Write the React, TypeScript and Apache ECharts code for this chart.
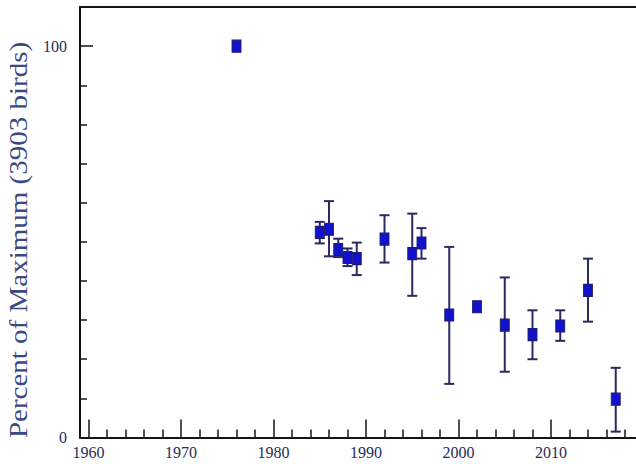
import React, { useEffect, useRef } from "react";
import * as echarts from "echarts";

const years = [1976, 1985, 1986, 1987, 1988, 1989, 1992, 1995, 1996, 1999, 2002, 2005, 2008, 2011, 2014, 2017];
const percent = [100, 52.4, 53.2, 48.0, 46.0, 45.7, 50.7, 47.0, 49.7, 31.3, 33.4, 28.7, 26.3, 28.5, 37.6, 9.8];
const lower = [null, 49.6, 46.3, 46.1, 43.8, 41.5, 44.7, 36.2, 45.7, 13.7, null, 16.8, 20.0, 24.7, 29.6, 1.5];
const upper = [null, 55.1, 60.4, 50.8, 48.3, 49.8, 56.8, 57.2, 53.5, 48.7, null, 40.9, 32.5, 32.5, 45.7, 17.8];

const xMajorTicks = [1960, 1970, 1980, 1990, 2000, 2010];
const xMinorTicks = [1962, 1964, 1966, 1968, 1972, 1974, 1976, 1978, 1982, 1984, 1986, 1988, 1992, 1994, 1996, 1998, 2002, 2004, 2006, 2008, 2012, 2014, 2016, 2018];
const yLabels = [0, 100];
const yMinorTicks = [10, 20, 30, 40, 50, 60, 70, 80, 90];

const yTitle = "Percent of Maximum (3903 birds)";

const X_MIN = 1959.08;
const X_MAX = 2019.19;
const Y_MIN = 0;
const Y_MAX = 110;

const serif = "Times New Roman, Liberation Serif, DejaVu Serif, serif";
const axisColor = "#151515";
const labelColor = "#252d58";

export default function App() {
  const ref = useRef<HTMLDivElement>(null);

  useEffect(() => {
    if (!ref.current) return;
    const chart = echarts.init(ref.current, null, { renderer: "svg" });

    const points = years.map((y, i) => [y, percent[i]]);
    const bars: number[][] = [];
    years.forEach((y, i) => {
      if (lower[i] != null && upper[i] != null) bars.push([y, lower[i] as number, upper[i] as number]);
    });

    const fmt = (v: number) => String(Math.round(v));

    chart.setOption({
      animation: false,
      backgroundColor: "#ffffff",
      textStyle: { fontFamily: serif },
      grid: {
        left: 80,
        top: 7,
        right: 0,
        bottom: 26.5,
        show: false,
      },
      xAxis: [
        {
          type: "value",
          min: X_MIN,
          max: X_MAX,
          position: "bottom",
          axisLine: { show: true, lineStyle: { color: axisColor, width: 2 } },
          axisTick: { show: true, inside: true, length: 18, customValues: xMajorTicks, lineStyle: { color: axisColor, width: 1.5 } },
          axisLabel: { show: true, customValues: xMajorTicks, formatter: fmt, margin: 7, fontFamily: serif, fontSize: 16, color: labelColor },
          splitLine: { show: false },
        },
        {
          type: "value",
          min: X_MIN,
          max: X_MAX,
          position: "bottom",
          offset: 0,
          axisLine: { show: false },
          axisTick: { show: true, inside: true, length: 8, customValues: xMinorTicks, lineStyle: { color: axisColor, width: 1.5 } },
          axisLabel: { show: false },
          splitLine: { show: false },
        },
        {
          type: "value",
          min: X_MIN,
          max: X_MAX,
          position: "top",
          offset: 0,
          axisLine: { show: true, lineStyle: { color: axisColor, width: 2 } },
          axisTick: { show: false },
          axisLabel: { show: false },
          splitLine: { show: false },
        },
      ],
      yAxis: [
        {
          type: "value",
          min: Y_MIN,
          max: Y_MAX,
          position: "left",
          axisLine: { show: true, lineStyle: { color: axisColor, width: 2 } },
          axisTick: { show: true, inside: true, length: 13, customValues: yLabels, lineStyle: { color: axisColor, width: 1.5 } },
          axisLabel: { show: true, customValues: yLabels, formatter: fmt, margin: 13, fontFamily: serif, fontSize: 16, color: labelColor },
          splitLine: { show: false },
        },
        {
          type: "value",
          min: Y_MIN,
          max: Y_MAX,
          position: "left",
          offset: 0,
          axisLine: { show: false },
          axisTick: { show: true, inside: true, length: 7, customValues: yMinorTicks, lineStyle: { color: axisColor, width: 1.5 } },
          axisLabel: { show: false },
          splitLine: { show: false },
        },
      ],
      graphic: [
        {
          type: "text",
          x: 19,
          y: 240,
          rotation: Math.PI / 2,
          scaleY: 0.85,
          style: {
            text: yTitle,
            fontFamily: serif,
            fontSize: 29,
            fill: "#3a4883",
            align: "center",
            verticalAlign: "middle",
          },
        },
      ],
      series: [
        {
          type: "custom",
          xAxisIndex: 0,
          yAxisIndex: 0,
          data: bars,
          encode: { x: 0, y: [1, 2] },
          z: 2,
          renderItem: (params: any, api: any) => {
            const x = api.value(0);
            const lo = api.value(1);
            const hi = api.value(2);
            const a = api.coord([x, hi]);
            const b = api.coord([x, lo]);
            const w = 5;
            const style = { stroke: "#2a2a62", lineWidth: 2 };
            return {
              type: "group",
              children: [
                { type: "line", shape: { x1: a[0], y1: a[1], x2: b[0], y2: b[1] }, style },
                { type: "line", shape: { x1: a[0] - w, y1: a[1], x2: a[0] + w, y2: a[1] }, style },
                { type: "line", shape: { x1: b[0] - w, y1: b[1], x2: b[0] + w, y2: b[1] }, style },
              ],
            };
          },
        },
        {
          type: "scatter",
          xAxisIndex: 0,
          yAxisIndex: 0,
          data: points,
          symbol: "rect",
          symbolSize: [9, 12],
          z: 3,
          itemStyle: { color: "#1212cc", borderColor: "#1c1c6e", borderWidth: 1, opacity: 1 },
        },
      ],
    });

    return () => chart.dispose();
  }, []);

  return (
    <div
      ref={ref}
      style={{ position: "fixed", left: 0, top: 0, width: 636, height: 464, background: "#fff" }}
    />
  );
}
